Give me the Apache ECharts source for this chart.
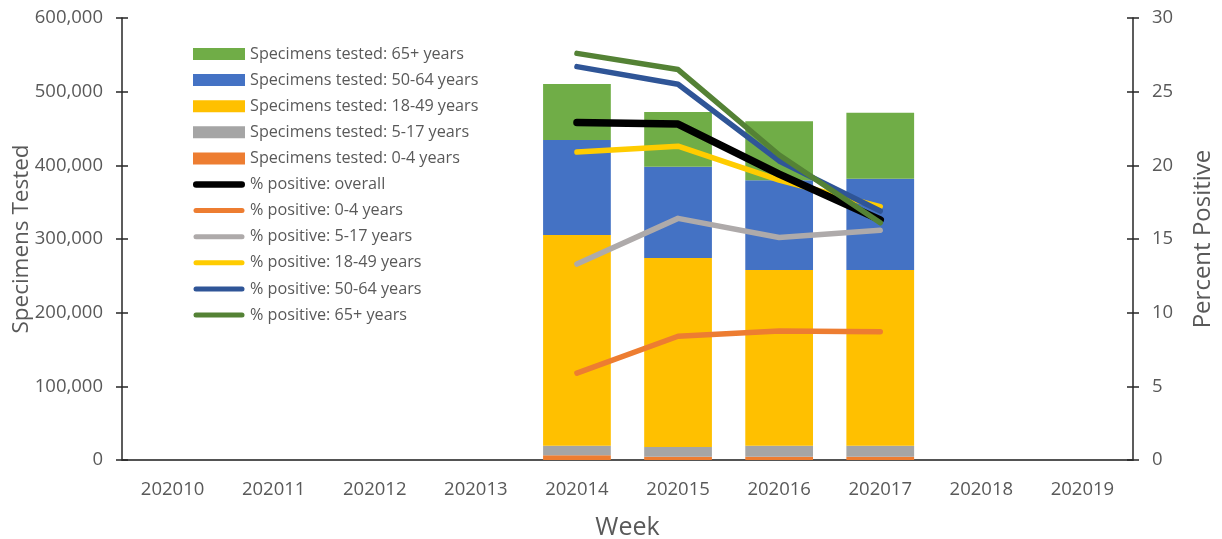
<!DOCTYPE html>
<html><head><meta charset="utf-8">
<script src="https://cdn.jsdelivr.net/npm/echarts@6/dist/echarts.min.js"></script>
<style>html,body{margin:0;padding:0;background:#fff}#c{width:1222px;height:539px}</style>
</head><body><div id="c"></div>
<script>
const weeks = ['202010','202011','202012','202013','202014','202015','202016','202017','202018','202019'];
const tested0_4   = [null,null,null,null,6400,4500,4500,4500,null,null];
const tested5_17  = [null,null,null,null,13000,13150,14900,14900,null,null];
const tested18_49 = [null,null,null,null,286000,256500,238500,238500,null,null];
const tested50_64 = [null,null,null,null,129000,123900,121700,124000,null,null];
const tested65    = [null,null,null,null,76000,74300,80100,89600,null,null];
const posOverall  = [null,null,null,null,22.9,22.8,19.4,16.3,null,null];
const pos0_4      = [null,null,null,null,5.9,8.4,8.75,8.7,null,null];
const pos5_17     = [null,null,null,null,13.3,16.4,15.1,15.6,null,null];
const pos18_49    = [null,null,null,null,20.9,21.3,19.0,17.2,null,null];
const pos50_64    = [null,null,null,null,26.7,25.5,20.3,16.9,null,null];
const pos65       = [null,null,null,null,27.6,26.5,20.7,16.1,null,null];

const txt = '#595959';
const font = 'Open Sans, Liberation Sans, sans-serif';
const lineIcon = 'path://M0,0 M52,12 M3,3.5 L49,3.5 A2.5,2.5 0 0 1 49,8.5 L3,8.5 A2.5,2.5 0 0 1 3,3.5 Z';
const lineIconThick = 'path://M0,0 M52,12 M3,2.8 L49,2.8 A3.2,3.2 0 0 1 49,9.2 L3,9.2 A3.2,3.2 0 0 1 3,2.8 Z';
function bar(name, data, color){
  return {name, type:'bar', stack:'t', data, barWidth:'67%', itemStyle:{color}, yAxisIndex:0};
}
function line(name, data, color, w){
  return {name, type:'line', data, yAxisIndex:1, symbol:'none', lineStyle:{color, width:w, cap:'round', join:'round'}, itemStyle:{color}, z:5};
}
const axisDark = {color:'#262626',width:1.5};
const chart = echarts.init(document.getElementById('c'));
chart.setOption({
  animation:false,
  textStyle:{fontFamily:font},
  grid:{left:122,right:89,top:18,bottom:79,containLabel:false,outerBoundsMode:'none'},
  legend:{
    orient:'vertical', left:188, top:41, itemWidth:52, itemHeight:12, itemGap:10.1,
    textStyle:{color:txt,fontSize:16.2,lineHeight:16,fontFamily:font},
    data:[
      {name:'Specimens tested: 65+ years',icon:'rect'},
      {name:'Specimens tested: 50-64 years',icon:'rect'},
      {name:'Specimens tested: 18-49 years',icon:'rect'},
      {name:'Specimens tested: 5-17 years',icon:'rect'},
      {name:'Specimens tested: 0-4 years',icon:'rect'},
      {name:'% positive: overall',icon:lineIconThick},
      {name:'% positive: 0-4 years',icon:lineIcon},
      {name:'% positive: 5-17 years',icon:lineIcon},
      {name:'% positive: 18-49 years',icon:lineIcon},
      {name:'% positive: 50-64 years',icon:lineIcon},
      {name:'% positive: 65+ years',icon:lineIcon}
    ]
  },
  xAxis:[{
    type:'category', data:weeks, name:'Week', nameLocation:'middle', nameGap:55,
    nameTextStyle:{color:txt,fontSize:25,fontFamily:font},
    axisLine:{lineStyle:{color:'#D9D9D9',width:1.5}}, axisTick:{show:false},
    axisLabel:{color:txt,fontSize:18.5,margin:20}
  },{
    type:'category', data:weeks, position:'top',
    axisLine:{lineStyle:axisDark}, axisTick:{show:false}, axisLabel:{show:false}
  }],
  yAxis:[{
    type:'value', min:0, max:600000, interval:100000, name:'Specimens Tested',
    nameLocation:'middle', nameGap:89, nameMoveOverlap:false,
    nameTextStyle:{color:txt,fontSize:22.5,fontFamily:font},
    axisLine:{show:true,lineStyle:axisDark},
    axisTick:{show:true,length:6,lineStyle:axisDark},
    splitLine:{show:false},
    axisLabel:{color:txt,fontSize:18.5,margin:19,formatter:v=>v.toLocaleString('en-US')}
  },{
    type:'value', min:0, max:30, interval:5, name:'Percent Positive',
    nameLocation:'middle', nameGap:58, nameTextStyle:{color:txt,fontSize:24,fontFamily:font},
    axisLine:{show:true,lineStyle:axisDark},
    axisTick:{show:true,length:6,lineStyle:axisDark},
    splitLine:{show:false},
    axisLabel:{color:txt,fontSize:18.5,margin:19}
  },{
    type:'value', min:0, max:600000, interval:100000, position:'left',
    axisLine:{show:false}, axisTick:{show:true,inside:true,length:6,lineStyle:axisDark},
    splitLine:{show:false}, axisLabel:{show:false}
  },{
    type:'value', min:0, max:30, interval:5, position:'right',
    axisLine:{show:false}, axisTick:{show:true,inside:true,length:6,lineStyle:axisDark},
    splitLine:{show:false}, axisLabel:{show:false}
  }],
  series:[
    bar('Specimens tested: 0-4 years', tested0_4, '#ED7D31'),
    bar('Specimens tested: 5-17 years', tested5_17, '#A5A5A5'),
    bar('Specimens tested: 18-49 years', tested18_49, '#FFC000'),
    bar('Specimens tested: 50-64 years', tested50_64, '#4472C4'),
    bar('Specimens tested: 65+ years', tested65, '#70AD47'),
    line('% positive: 0-4 years', pos0_4, '#ED7D31', 5.5),
    line('% positive: 5-17 years', pos5_17, '#AEAAAA', 5.5),
    line('% positive: 18-49 years', pos18_49, '#FFCC00', 5.5),
    line('% positive: overall', posOverall, '#000000', 7.5),
    line('% positive: 50-64 years', pos50_64, '#2F5597', 5.5),
    line('% positive: 65+ years', pos65, '#548235', 5.5)
  ]
});
</script></body></html>
